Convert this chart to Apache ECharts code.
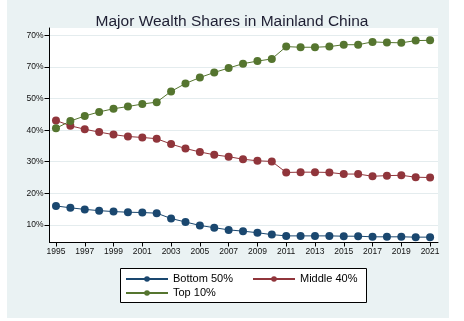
<!DOCTYPE html>
<html><head><meta charset="utf-8">
<script src="https://cdn.jsdelivr.net/npm/echarts@6/dist/echarts.min.js"></script>
<style>html,body{margin:0;padding:0;background:#fff}#c{width:464px;height:321px}</style>
</head><body><div id="c"></div>
<script>
const years = [1995,1996,1997,1998,1999,2000,2001,2002,2003,2004,2005,2006,2007,2008,2009,2010,2011,2012,2013,2014,2015,2016,2017,2018,2019,2020,2021];
const bottom50 = [16.0,15.4,14.9,14.5,14.2,14.0,13.9,13.7,12.0,10.9,9.8,9.1,8.4,8.0,7.5,6.9,6.5,6.5,6.5,6.5,6.4,6.4,6.2,6.2,6.2,6.1,6.1];
const middle40 = [43.1,41.4,40.3,39.4,38.6,38.0,37.7,37.3,35.6,34.2,33.1,32.2,31.6,30.8,30.3,30.1,26.6,26.7,26.7,26.6,26.1,26.1,25.4,25.6,25.7,25.1,25.0];
const top10 = [40.6,42.9,44.5,45.8,46.8,47.5,48.3,48.9,52.3,54.8,56.7,58.3,59.7,61.1,61.9,62.6,66.5,66.3,66.3,66.5,67.1,67.1,68.0,67.8,67.7,68.4,68.5];
const xTickYears = [1995,1997,1999,2001,2003,2005,2007,2009,2011,2013,2015,2017,2019,2021];
const yTickValues = [10,20,30,40,50,60,70];
const yTickLabels = ['10%','20%','30%','40%','50%','70%','70%'];
const seriesNames = ['Bottom 50%','Middle 40%','Top 10%'];
const colors = ['#1a476f','#90353b','#55752f'];

const chart = echarts.init(document.getElementById('c'), null, {renderer:'canvas'});
const mk = (name, vals, color) => ({
  name, type:'line', data: years.map((y,i)=>[y, vals[i]]),
  symbol:'circle', symbolSize:8, showSymbol:true,
  itemStyle:{color, borderWidth:0},
  lineStyle:{color, width:1},
  emphasis:{disabled:true}, animation:false
});
const legendCommon = {orient:'vertical', padding:0, itemWidth:42, itemHeight:7, itemGap:3,
  textStyle:{fontSize:11, color:'#000'}, selectedMode:false};
chart.setOption({
  animation:false,
  textStyle:{fontFamily:'Liberation Sans, Arial, sans-serif'},
  graphic:[
    {type:'rect', z:-10, silent:true, shape:{x:7,y:0,width:442,height:318}, style:{fill:'#eaf2f3'}},
    {type:'rect', z:-5, silent:true, shape:{x:120.5,y:268.5,width:246,height:34}, style:{fill:'#fff', stroke:'#000', lineWidth:1}}
  ],
  title:{text:'Major Wealth Shares in Mainland China', left:'center', top:9,
    textStyle:{fontSize:15.5, fontWeight:'normal', color:'#1e1e32', fontFamily:'Liberation Sans, Arial, sans-serif'}},
  grid:{left:49.5, right:26, top:28, bottom:78.5, show:true, backgroundColor:'#ffffff', borderWidth:0, containLabel:false},
  xAxis:{type:'value', min:1994.55, max:2021.55,
    axisLine:{show:true, onZero:false, lineStyle:{color:'#000', width:1}},
    axisTick:{show:true, length:4, customValues:xTickYears, lineStyle:{color:'#000'}},
    axisLabel:{customValues:xTickYears, formatter:v=>String(v), fontSize:8.5, color:'#111', margin:5},
    splitLine:{show:false}},
  yAxis:{type:'value', min:4.4, max:72.4,
    axisLine:{show:true, onZero:false, lineStyle:{color:'#000', width:1}},
    axisTick:{show:true, length:5, customValues:yTickValues, lineStyle:{color:'#000'}},
    axisLabel:{customValues:yTickValues, formatter:v=>yTickLabels[yTickValues.indexOf(Math.round(v))], fontSize:8.5, color:'#111', margin:6},
    splitLine:{show:true, lineStyle:{color:'#e4ecee', width:1}}},
  legend:[
    Object.assign({left:125, top:273.5, data:[seriesNames[0], seriesNames[2]]}, legendCommon),
    Object.assign({left:252, top:273.5, data:[seriesNames[1]]}, legendCommon)
  ],
  series:[mk(seriesNames[0], bottom50, colors[0]), mk(seriesNames[1], middle40, colors[1]), mk(seriesNames[2], top10, colors[2])]
});
</script></body></html>
